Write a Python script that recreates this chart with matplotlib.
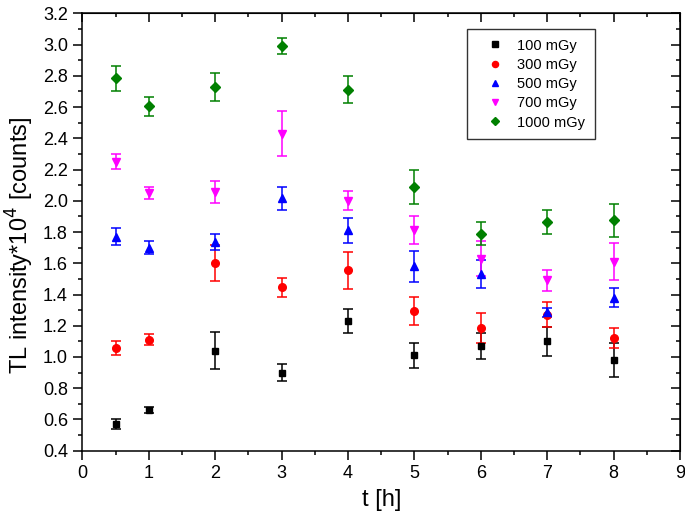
import numpy as np
import matplotlib
matplotlib.use("Agg")
import matplotlib.pyplot as plt
from matplotlib.ticker import MultipleLocator
from matplotlib.lines import Line2D

plt.rcParams['font.family'] = ['Liberation Sans', 'DejaVu Sans']

# time points [h]
t = [0.5, 1, 2, 3, 4, 5, 6, 7, 8]

# TL intensity * 10^4 [counts] and their errors, one array per dose
y100 = [0.57, 0.66, 1.04, 0.90, 1.23, 1.01, 1.07, 1.10, 0.98]
e100 = [0.03, 0.02, 0.117, 0.055, 0.077, 0.078, 0.085, 0.093, 0.11]

y300 = [1.06, 1.11, 1.60, 1.445, 1.555, 1.295, 1.185, 1.27, 1.12]
e300 = [0.045, 0.036, 0.116, 0.059, 0.117, 0.09, 0.096, 0.08, 0.064]

y500 = [1.77, 1.70, 1.735, 2.015, 1.81, 1.58, 1.53, 1.285, 1.38]
e500 = [0.053, 0.042, 0.053, 0.074, 0.081, 0.099, 0.091, 0.026, 0.062]

y700 = [2.25, 2.05, 2.055, 2.43, 2.00, 1.815, 1.63, 1.49, 1.61]
e700 = [0.048, 0.04, 0.07, 0.144, 0.061, 0.09, 0.11, 0.066, 0.12]

y1000 = [2.785, 2.605, 2.73, 2.99, 2.71, 2.09, 1.79, 1.865, 1.875]
e1000 = [0.08, 0.062, 0.09, 0.05, 0.087, 0.109, 0.073, 0.078, 0.106]

labels = ['100 mGy', '300 mGy', '500 mGy', '700 mGy', '1000 mGy']

series = [(y100, e100, 'black', 's', 5.0),
          (y300, e300, 'red', 'o', 5.5),
          (y500, e500, 'blue', '^', 6.0),
          (y700, e700, 'magenta', 'v', 6.0),
          (y1000, e1000, 'green', 'D', 5.0)]

fig = plt.figure(figsize=(6.85, 5.26), dpi=100)
ax = fig.add_axes([0.1204, 0.1431, 0.8723, 0.8316])

handles = []
for (y, e, c, m, ms), lab in zip(series, labels):
    ax.errorbar(t, y, yerr=e, fmt=m, color=c, ms=ms, capsize=3.6,
                elinewidth=1.1, capthick=1.1, ecolor=c)
    handles.append(Line2D([], [], ls='none', marker=m, color=c,
                          ms=ms * 0.8, label=lab))

ax.set_xlim(0, 9)
ax.set_ylim(0.4, 3.2)
ax.xaxis.set_major_locator(MultipleLocator(1))
ax.xaxis.set_minor_locator(MultipleLocator(0.5))
ax.yaxis.set_major_locator(MultipleLocator(0.2))
ax.yaxis.set_minor_locator(MultipleLocator(0.1))
ax.yaxis.set_major_formatter(plt.FormatStrFormatter('%.1f'))

ax.tick_params(which='both', direction='out', width=1.1, labelsize=13,
               top=False, right=False)
ax.tick_params(which='major', length=6.5, pad=4)
ax.tick_params(which='minor', length=3.2)
for s in ax.spines.values():
    s.set_linewidth(1.1)

# inward ticks on top and right, without labels
sx = ax.secondary_xaxis('top')
sx.xaxis.set_major_locator(MultipleLocator(1))
sx.xaxis.set_minor_locator(MultipleLocator(0.5))
sx.tick_params(which='both', direction='in', labeltop=False, width=1.1)
sx.tick_params(which='major', length=6.5)
sx.tick_params(which='minor', length=3.2)
sy = ax.secondary_yaxis('right')
sy.yaxis.set_major_locator(MultipleLocator(0.2))
sy.yaxis.set_minor_locator(MultipleLocator(0.1))
sy.tick_params(which='both', direction='in', labelright=False, width=1.1)
sy.tick_params(which='major', length=6.5)
sy.tick_params(which='minor', length=3.2)

ax.set_xlabel('t [h]', fontsize=17, labelpad=5)
ax.set_ylabel('TL intensity*10$^{4}$ [counts]', fontsize=17)
ax.yaxis.set_label_coords(-0.078, 0.47)

leg = ax.legend(handles=handles, loc='upper left',
                bbox_to_anchor=(0.6435, 0.964), borderaxespad=0,
                fontsize=10.5, frameon=True, fancybox=False,
                edgecolor='black', handletextpad=0.3, labelspacing=0.36,
                borderpad=0.65, handlelength=2.5)
leg.get_frame().set_linewidth(1.0)

fig.savefig('out.png', dpi=100)
